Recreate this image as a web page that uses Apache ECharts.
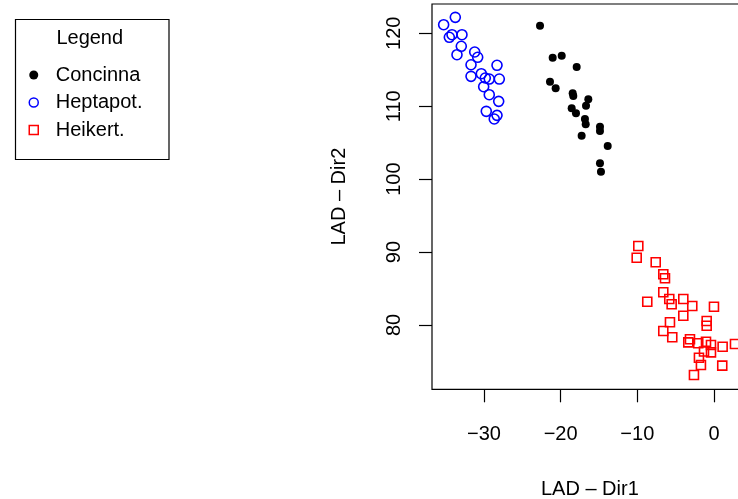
<!DOCTYPE html>
<html>
<head>
<meta charset="utf-8">
<script src="https://cdn.jsdelivr.net/npm/echarts@6/dist/echarts.min.js"></script>
<style>
html, body { margin: 0; padding: 0; overflow: hidden; background: #fff; }
#chart { width: 760px; height: 499px; }
</style>
</head>
<body>
<div id="chart"></div>
<script>
// Concinna (filled black dots)
const concinna = [
  [-22.69,121.04],[-21.04,116.65],[-19.86,116.93],[-17.91,115.38],[-21.39,113.36],
  [-20.65,112.46],[-18.43,111.77],[-18.35,111.40],[-16.39,110.95],[-16.69,110.07],
  [-18.56,109.71],[-18.00,109.03],[-16.83,108.25],[-16.73,107.52],[-14.87,107.19],
  [-14.87,106.60],[-17.26,105.96],[-13.86,104.54],[-14.87,102.17],[-14.74,101.02]
];
// Heptapot. (open blue circles)
const heptapot = [
  [-33.74,122.19],[-35.26,121.18],[-34.17,119.81],[-34.52,119.45],[-32.87,119.81],
  [-32.96,118.22],[-33.52,117.07],[-31.21,117.44],[-30.82,116.71],[-31.69,115.69],
  [-28.30,115.61],[-31.69,114.10],[-30.35,114.46],[-29.83,113.87],[-29.31,113.73],
  [-28.00,113.73],[-30.04,112.68],[-29.31,111.58],[-28.08,110.67],[-29.70,109.30],
  [-28.30,108.75],[-28.66,108.25]
];
// Heikert. (open red squares)
const heikert = [
  [-9.87,90.83],[-10.08,89.23],[-7.60,88.60],[-6.61,86.95],[-6.39,86.40],
  [-6.61,84.48],[-5.83,83.56],[-5.52,82.84],[-8.70,83.19],[-4.00,83.56],
  [-2.83,82.60],[0.00,82.51],[-4.00,81.27],[-0.95,80.55],[-0.95,79.90],
  [-5.74,80.37],[-6.61,79.17],[-5.44,78.31],[-3.13,78.04],[-3.35,77.62],
  [-2.05,77.49],[-1.04,77.71],[-0.39,77.25],[-1.30,76.36],[-0.39,76.25],
  [1.13,77.02],[2.74,77.39],[-1.96,75.51],[-1.70,74.51],[1.08,74.42],
  [-2.61,73.14]
];
const xTicks = [-30, -20, -10, 0];
const yTicks = [80, 90, 100, 110, 120];
const seriesNames = ['Concinna', 'Heptapot.', 'Heikert.'];

const FONT = 'Liberation Sans, Arial, Helvetica, sans-serif';
const fmt = v => (v < 0 ? '\u2212' + Math.abs(v) : String(v));
const SQUARE = 'path://M0,0H10V10H0Z';

const chart = echarts.init(document.getElementById('chart'), null, { renderer: 'canvas' });
chart.setOption({
  animation: false,
  backgroundColor: '#fff',
  textStyle: { fontFamily: FONT },
  grid: {
    show: true, borderColor: '#000', borderWidth: 1.2,
    left: 432, top: 4, width: 315.7, height: 385.3,
    containLabel: false, outerBoundsMode: 'none'
  },
  xAxis: {
    type: 'value', min: -36.78, max: 4.4,
    axisLine: { show: false, onZero: false },
    splitLine: { show: false },
    axisTick: { show: true, customValues: xTicks, length: 13, lineStyle: { color: '#000', width: 1.2 } },
    axisLabel: { customValues: xTicks, formatter: fmt, margin: 35, fontSize: 20, color: '#000', fontFamily: FONT },
    name: 'LAD \u2013 Dir1', nameLocation: 'middle', nameGap: 90,
    nameTextStyle: { fontSize: 20, color: '#000', fontFamily: FONT }
  },
  yAxis: {
    type: 'value', min: 71.18, max: 124.02,
    axisLine: { show: false, onZero: false },
    splitLine: { show: false },
    axisTick: { show: true, customValues: yTicks, length: 13, lineStyle: { color: '#000', width: 1.2 } },
    axisLabel: { customValues: yTicks, rotate: 90, margin: 28, fontSize: 20, color: '#000', fontFamily: FONT },
    name: 'LAD \u2013 Dir2', nameLocation: 'middle', nameGap: 83, nameRotate: 90,
    nameTextStyle: { fontSize: 20, color: '#000', fontFamily: FONT }
  },
  legend: {
    orient: 'vertical', left: 28.5, top: 65, padding: 0,
    itemWidth: 34, itemHeight: 9, itemGap: 7.5,
    textStyle: { fontSize: 20, color: '#000', fontFamily: FONT, lineHeight: 20 },
    selectedMode: false,
    data: [
      { name: seriesNames[0], icon: 'circle', itemStyle: { color: '#000', borderWidth: 0 } },
      { name: seriesNames[1], icon: 'circle', itemStyle: { color: 'rgba(0,0,0,0)', borderColor: '#0000ff', borderWidth: 1.5 } },
      { name: seriesNames[2], icon: SQUARE, itemStyle: { color: 'rgba(0,0,0,0)', borderColor: '#ff0000', borderWidth: 1.5 } }
    ]
  },
  graphic: [
    { type: 'rect', left: 13, top: 17, shape: { width: 153.5, height: 140 }, style: { fill: 'none', stroke: '#000', lineWidth: 1.2 }, z: 10 },
    { type: 'text', x: 89.75, y: 38, z: 10,
      style: { text: 'Legend', fontSize: 20, fontFamily: FONT, fill: '#000', align: 'center', verticalAlign: 'middle' } }
  ],
  series: [
    { name: seriesNames[0], type: 'scatter', data: concinna, symbol: 'circle', symbolSize: 8,
      itemStyle: { color: '#000', opacity: 1 } },
    { name: seriesNames[1], type: 'scatter', data: heptapot, symbol: 'circle', symbolSize: 10,
      itemStyle: { color: 'rgba(0,0,0,0)', borderColor: '#0000ff', borderWidth: 1.6, opacity: 1 } },
    { name: seriesNames[2], type: 'scatter', data: heikert, symbol: 'rect', symbolSize: 9,
      itemStyle: { color: 'rgba(0,0,0,0)', borderColor: '#ff0000', borderWidth: 1.6, opacity: 1 } }
  ]
});
</script>
</body>
</html>
